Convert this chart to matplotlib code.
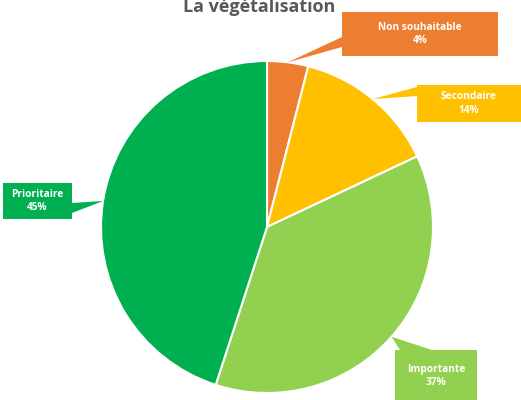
import numpy as np
import matplotlib
matplotlib.use("Agg")
import matplotlib.pyplot as plt
from matplotlib.patches import Rectangle, Polygon

# Data
categories = ["Non souhaitable", "Secondaire", "Importante", "Prioritaire"]
values = [4, 14, 37, 45]
colors = ["#ED7D31", "#FFC000", "#92D050", "#00B050"]
title = "La végétalisation"

W, H = 521, 400
fig = plt.figure(figsize=(W / 100, H / 100), dpi=100)
ax = fig.add_axes([0, 0, 1, 1])

cx, cy, r = 267, H - 227, 166
wedges, _ = ax.pie(values, colors=colors, startangle=90, counterclock=False,
                   center=(cx, cy), radius=r,
                   wedgeprops=dict(edgecolor="white", linewidth=1.5))
ax.set_xlim(0, W)
ax.set_ylim(0, H)
ax.set_aspect("equal")
ax.axis("off")

def py(y):
    return H - y

# callout layout: box (x0, y0_top, x1, y1_bottom) in pixel coords, pointer base two points
layout = [
    dict(box=(342, 12, 498, 56), base=[(342, 37), (342, 47)]),
    dict(box=(417, 85, 521, 122), base=[(417, 87), (417, 96)]),
    dict(box=(395, 350, 477, 402), base=[(400, 350), (432, 350)]),
    dict(box=(3, 183, 72, 219), base=[(72, 203), (72, 213)]),
]

total = sum(values)
for w, cat, val, col, lay in zip(wedges, categories, values, colors, layout):
    mid = np.deg2rad((w.theta1 + w.theta2) / 2)
    tip = (cx + r * np.cos(mid), cy + r * np.sin(mid))
    x0, y0, x1, y1 = lay["box"]
    ax.add_patch(Rectangle((x0, py(y1)), x1 - x0, y1 - y0, facecolor=col,
                           edgecolor="none", zorder=5, clip_on=False))
    b = [(bx, py(by)) for bx, by in lay["base"]]
    ax.add_patch(Polygon([b[0], tip, b[1]], closed=True, facecolor=col,
                         edgecolor="none", zorder=5))
    tcx = (x0 + min(x1, 520)) / 2
    tcy = (y0 + y1) / 2 if y1 < 400 else 376
    ax.text(tcx, py(tcy), f"{cat}\n{round(val / total * 100)}%", ha="center",
            va="center", color="white", fontsize=7.3, fontweight="bold",
            family="Open Sans", linespacing=1.35, zorder=6)

ax.text(259, py(12), title, ha="center", va="baseline", fontsize=13,
        fontweight="bold", color="#595959", family="Open Sans")

fig.savefig("out.png", dpi=100)
